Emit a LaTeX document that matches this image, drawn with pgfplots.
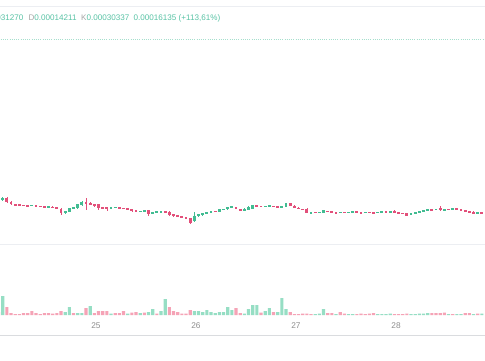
\documentclass[border=0pt]{standalone}
\usepackage{pgfplots}
\pgfplotsset{compat=1.18}
\usepackage{pgfplotstable}
\usepackage{fontspec}
\setmainfont{Liberation Sans}
\definecolor{upc}{HTML}{42BC92}
\definecolor{dnc}{HTML}{E2507A}
\definecolor{upv}{HTML}{96DEC4}
\definecolor{dnv}{HTML}{F5A3B6}
\definecolor{hdr}{HTML}{58C3A5}
\definecolor{lbl}{HTML}{A6A6A6}
\definecolor{tck}{HTML}{8E8E8E}
\definecolor{pline}{HTML}{A6DFCD}
\definecolor{sep}{HTML}{ECEEF2}

% hourly candles: open high low close (price in 1e-6)
\pgfplotstableread{
k o h l c
0 143 146 142 145
1 145 146 140 141
2 141 142 138 139
3 139 139.5 137.5 138
4 138.5 139 137 137.5
5 138 138.5 136.8 137.2
6 138 138.5 136.5 137
7 137.2 138.5 137 138
8 137.5 138 136.3 136.7
9 137 137.5 136 136.2
10 136.7 137 135.5 135.8
11 135.7 137 135.3 136.5
12 136.2 136.6 135 135.4
13 135.7 136 134 134.5
14 134.5 135 128 130
15 130.5 132.5 129.5 132
16 131.5 135.5 131 135
17 134.5 136.5 134 136
18 135 139.5 134.5 139
19 138 142 137.5 141
20 141 145 133 139
21 140.5 141 138 138.5
22 139 139.5 136.5 137
23 139 139.5 133 135
24 136 136.5 134.5 134.8
25 136 136.5 132 135
26 135 136.5 134.5 136
27 135.5 136.5 135.2 136.2
28 135.5 136 134.5 134.7
29 135 135.5 134 134.2
30 135 135.3 133.5 133.8
31 134 134.5 131.5 132
32 132.5 133 131.3 131.7
33 131.5 132.5 131.2 132.2
34 131.7 132.8 131.4 132.4
35 133 133.5 127 129
36 129.2 131.5 128.8 131
37 130.7 132 130.5 131.7
38 131 132.2 130.7 131.8
39 131.8 132.2 130.7 131
40 131.5 132 127.5 128
41 128.8 129 126.5 127
42 127.7 128 126.3 126.7
43 127 127.5 124.7 125
44 125.5 126 124 124.5
45 125 125.5 119.5 120.5
46 122 131 121.5 127.5
47 127 129.5 126.5 129
48 128 130.5 127.5 130
49 129.5 131 129.2 130.7
50 130.7 132 130.5 131.7
51 132 132.3 131 131.2
52 131.5 134 131.2 133.7
53 133.5 134.5 133.3 134.2
54 133.7 136 133.5 135.7
55 135 137.2 134.8 136.7
56 136.2 136.5 133.7 134
57 134 134.3 132.7 133
58 132 135 131.7 134.5
59 133 137 132.7 136.5
60 134.5 138.5 134.2 138
61 138 138.5 136.5 136.7
62 137 137.3 136 136.2
63 136.5 137.5 136.3 137.2
64 136.7 137.7 136.5 137.4
65 137.2 137.5 136.2 136.4
66 136.8 137.2 135.8 136
67 136 137.3 135.8 137
68 136.5 140.5 136.2 140
69 140 140.5 137 137.2
70 137.5 137.8 134.7 135
71 135.5 135.8 133.7 134
72 134.2 134.5 133.2 133.4
73 134.5 135 129.6 130
74 130 131.2 129.8 130.8
75 131 131.3 130 130.2
76 130.5 131.5 130.3 131.2
77 130 133 129.8 132.7
78 132.2 132.5 131.2 131.4
79 132 132.3 129.7 130
80 130.4 130.7 129.5 129.7
81 130.2 131.3 130 131
82 131 131.2 130.1 130.3
83 130.4 131.4 130.2 131.1
84 131.1 132.1 130.9 131.8
85 131.5 131.8 130.2 130.5
86 130.7 131 129.7 130
87 130.2 131.3 130 131
88 131 131.2 130.1 130.3
89 130.4 130.7 129.5 129.7
90 130.2 131.3 130 131
91 130.7 131.7 130.5 131.4
92 131.4 131.7 130.4 130.6
93 131 132.3 130.8 132
94 132.5 132.8 129.8 130
95 130.5 130.8 129.6 129.8
96 130.2 130.5 129.2 129.4
97 130 130.3 127 127.5
98 128.5 130 128.2 129.7
99 129 131 128.8 130.7
100 130.2 132.3 130 132
101 132 133.3 131.8 133
102 132.8 134 132.6 133.7
103 133.7 134 132.8 133
104 133.2 134.3 133 134
105 134.7 137 132 132.8
106 133 134.1 132.8 133.8
107 134 134.3 133.1 133.3
108 133.5 135 133.3 134.7
109 134.5 134.8 133.3 133.5
110 133.7 134 131.8 132
111 132.5 132.8 131.5 131.7
112 132 132.3 130.8 131
113 131.5 131.8 128.7 129
114 129.5 130.8 129.3 130.5
115 130.5 130.8 129.3 129.5
}\candles

% volume (thousands), d=1 rising candle colour
\pgfplotstableread{
k v d
-1 3 0
0 19 1
1 8 0
2 2 0
3 1 0
4 1 0
5 2 0
6 2 0
7 4 0
8 2 0
9 1 0
10 2 0
11 2 0
12 1.5 0
13 2 0
14 4 0
15 3 1
16 8 1
17 2 0
18 2 1
19 2 1
20 7 0
21 9 1
22 2 0
23 4 0
24 4 0
25 4 0
26 1.5 1
27 2 0
28 2 0
29 4 0
30 1.5 1
31 2.5 0
32 3 0
33 2 1
34 2.5 0
35 3 1
36 6 1
37 1.5 0
38 4 1
39 16 1
40 8 0
41 4 0
42 3 0
43 1.5 0
44 1.5 0
45 5 0
46 4 1
47 4 1
48 3 1
49 5 1
50 3 1
51 2 1
52 3 1
53 3 1
54 8 1
55 5 1
56 7 0
57 2 0
58 1.5 1
59 6 1
60 10 1
61 10 1
62 2.5 0
63 4 1
64 7 1
65 3 0
66 3 1
67 17 1
68 6 1
69 3 0
70 1 0
71 1 0
72 1.5 0
73 1.5 0
74 1 0
75 1 1
76 1.5 1
77 6 1
78 2 0
79 2 0
80 1 1
81 3 0
82 1.5 0
83 1 1
84 1 1
85 1 0
86 1.5 0
87 1 0
88 1.5 0
89 2 0
90 1 1
91 1 1
92 1 1
93 1.5 1
94 1 0
95 1 0
96 1 0
97 1.5 0
98 1 1
99 1 1
100 1.5 1
101 1.5 1
102 2 1
103 2 0
104 2 0
105 2 0
106 2.5 0
107 1 1
108 1 0
109 1 1
110 1 1
111 2 0
112 2 0
113 1 1
114 1.5 0
115 1.5 1
}\volumes

\begin{document}
\begin{tikzpicture}[x=1pt,y=1pt]
\useasboundingbox (0,0) rectangle (485,360);
\fill[white] (0,0) rectangle (485,360);
\draw[line width=1pt, color=sep] (0,354) -- (485,354);
\draw[line width=1pt, color=sep] (0,116) -- (485,116);
\draw[line width=1pt, color=sep!80!gray!90] (0,25) -- (485,25);

% header
\begin{scope}[every node/.style={inner sep=0pt, font=\fontsize{8.1}{10}\selectfont}]
\node[anchor=base east] at (23.5,339.7) {\textcolor{lbl}{A}\textcolor{hdr}{0.00014202}\hspace{4pt}\textcolor{lbl}{Y}\textcolor{hdr}{0.00031270}};
\node[anchor=base west] at (28.3,339.7) {\textcolor{lbl}{D}\textcolor{hdr}{0.00014211}};
\node[anchor=base west] at (81,339.7) {\textcolor{lbl}{K}\textcolor{hdr}{0.00030337}};
\node[anchor=base west] at (133.5,339.7) {\textcolor{hdr}{0.00016135 (+113,61\%)}};
\end{scope}

% price pane
\begin{axis}[name=price, at={(0,354)}, anchor=north west, scale only axis,
  width=485pt, height=238pt,
  xmin=-0.648, xmax=115.75, ymin=99, ymax=337,
  axis line style={draw=none}, xtick=\empty, ytick=\empty,
  unbounded coords=discard]
\addplot[color=pline, line width=0.8pt, dash pattern=on 0.9pt off 1.3pt] coordinates {(-1,303.37) (117,303.37)};
% wicks
\addplot[draw=none, mark=none, error bars/.cd, y dir=both, y explicit, error mark=none,
  error bar style={draw=upc, line width=0.7pt}]
  table[x=k, y expr={\thisrow{c}>=\thisrow{o} ? (\thisrow{h}+\thisrow{l})/2 : nan},
        y error expr={(\thisrow{h}-\thisrow{l})/2}] {\candles};
\addplot[draw=none, mark=none, error bars/.cd, y dir=both, y explicit, error mark=none,
  error bar style={draw=dnc, line width=0.7pt}]
  table[x=k, y expr={\thisrow{c}<\thisrow{o} ? (\thisrow{h}+\thisrow{l})/2 : nan},
        y error expr={(\thisrow{h}-\thisrow{l})/2}] {\candles};
% bodies
\addplot[draw=none, mark=none, error bars/.cd, y dir=both, y explicit, error mark=none,
  error bar style={draw=upc, line width=2.9pt}]
  table[x=k, y expr={\thisrow{c}>=\thisrow{o} ? (\thisrow{o}+\thisrow{c})/2 : nan},
        y error expr={max(abs(\thisrow{c}-\thisrow{o})/2,0.6)}] {\candles};
\addplot[draw=none, mark=none, error bars/.cd, y dir=both, y explicit, error mark=none,
  error bar style={draw=dnc, line width=2.9pt}]
  table[x=k, y expr={\thisrow{c}<\thisrow{o} ? (\thisrow{o}+\thisrow{c})/2 : nan},
        y error expr={max(abs(\thisrow{c}-\thisrow{o})/2,0.6)}] {\candles};
\end{axis}

% volume pane
\begin{axis}[at={(price.south west)}, anchor=north west, scale only axis,
  width=485pt, height=71pt,
  xmin=-0.648, xmax=115.75, ymin=0, ymax=71,
  axis line style={draw=none}, tick style={draw=none},
  ytick=\empty,
  xtick={22.39,46.39,70.39,94.39},
  xticklabels={25,26,27,28},
  xticklabel style={anchor=center, yshift=-10.7pt, text=tck, font=\fontsize{8.3}{10}\selectfont},
  unbounded coords=discard]
\addplot[ybar, bar width=3.2pt, bar shift=0pt, fill=upv, draw=none]
  table[x=k, y expr={\thisrow{d}==1 ? \thisrow{v} : nan}] {\volumes};
\addplot[ybar, bar width=3.2pt, bar shift=0pt, fill=dnv, draw=none]
  table[x=k, y expr={\thisrow{d}==0 ? \thisrow{v} : nan}] {\volumes};
\end{axis}
\end{tikzpicture}
\end{document}
